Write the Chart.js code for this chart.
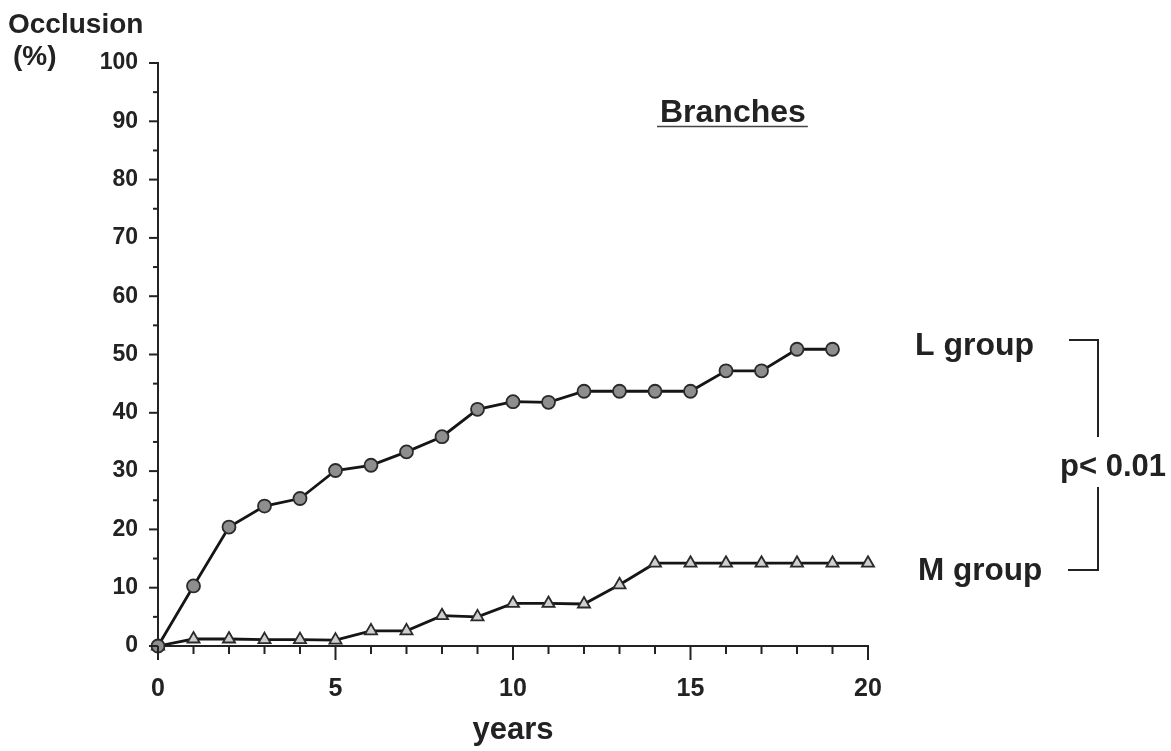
<!DOCTYPE html>
<html>
<head>
<meta charset="utf-8">
<script src="https://cdn.jsdelivr.net/npm/chart.js@4/dist/chart.umd.min.js"></script>
<style>
  html, body { margin: 0; padding: 0; background: #ffffff; }
  #wrap { width: 1171px; height: 751px; position: relative; }
</style>
</head>
<body>
<div id="wrap"><canvas id="c" width="1171" height="751"></canvas></div>
<script>
// ---- data ----
const yearsL = [0,1,2,3,4,5,6,7,8,9,10,11,12,13,14,15,16,17,18,19];
const lGroup = [0,10.3,20.4,24.0,25.3,30.1,31.0,33.3,35.9,40.6,41.9,41.8,43.7,43.7,43.7,43.7,47.2,47.2,50.9,50.9];
const yearsM = [0,1,2,3,4,5,6,7,8,9,10,11,12,13,14,15,16,17,18,19,20];
const mGroup = [0,1.2,1.2,1.1,1.1,1.0,2.6,2.6,5.2,5.0,7.3,7.3,7.2,10.5,14.2,14.2,14.2,14.2,14.2,14.2,14.2];
const xTickLabels = [0,5,10,15,20];
const yTickLabels = [0,10,20,30,40,50,60,70,80,90,100];
const seriesNames = ['L group','M group'];
const panelTitle = 'Branches';
const pText = 'p< 0.01';

const FONT = "'Liberation Sans', Arial, Helvetica, sans-serif";
const INK = '#222222';

const toXY = (xs, ys) => ys.map((v, i) => ({ x: xs[i], y: v }));

const decor = {
  id: 'decor',
  afterDraw(chart) {
    const { ctx, scales: { x, y }, chartArea: ca } = chart;
    ctx.save();
    ctx.strokeStyle = INK;
    ctx.lineWidth = 2;
    // x ticks (minor every year, major every 5)
    for (let v = 0; v <= 20; v++) {
      const px = x.getPixelForValue(v);
      const len = v % 5 === 0 ? 14 : 8;
      ctx.beginPath(); ctx.moveTo(px, ca.bottom); ctx.lineTo(px, ca.bottom + len); ctx.stroke();
    }
    // y ticks (minor every 5, major every 10)
    for (let v = 0; v <= 100; v += 5) {
      const py = y.getPixelForValue(v);
      const len = v % 10 === 0 ? 9 : 5;
      ctx.beginPath(); ctx.moveTo(ca.left, py); ctx.lineTo(ca.left - len, py); ctx.stroke();
    }
    // texts
    ctx.fillStyle = INK;
    ctx.textBaseline = 'alphabetic';
    ctx.textAlign = 'left';
    ctx.font = `bold 28px ${FONT}`;
    ctx.fillText('Occlusion', 8, 33);
    ctx.fillText('(%)', 13, 65);

    ctx.font = `bold 32px ${FONT}`;
    ctx.fillText(panelTitle, 660, 122);
    const w = ctx.measureText(panelTitle).width;
    ctx.lineWidth = 1.5;
    ctx.strokeStyle = '#444';
    ctx.beginPath(); ctx.moveTo(657, 126.5); ctx.lineTo(660 + w + 2, 126.5); ctx.stroke();

    ctx.font = `bold 32px ${FONT}`;
    ctx.fillText(seriesNames[0], 915, 355);
    ctx.font = `bold 31.5px ${FONT}`;
    ctx.fillText(seriesNames[1], 918, 580);
    ctx.font = `bold 31px ${FONT}`;
    ctx.fillText(pText, 1060, 476);

    // bracket
    ctx.strokeStyle = INK;
    ctx.lineWidth = 2;
    ctx.beginPath();
    ctx.moveTo(1069, 340); ctx.lineTo(1098, 340); ctx.lineTo(1098, 437);
    ctx.moveTo(1098, 487); ctx.lineTo(1098, 570); ctx.lineTo(1068, 570);
    ctx.stroke();
    ctx.restore();
  }
};

new Chart(document.getElementById('c'), {
  type: 'line',
  data: {
    datasets: [
      {
        label: seriesNames[0],
        data: toXY(yearsL, lGroup),
        borderColor: '#151515', borderWidth: 2.8, tension: 0,
        pointStyle: 'circle', pointRadius: 6.5,
        pointBackgroundColor: '#8e8e8e', pointBorderColor: '#2a2a2a', pointBorderWidth: 1.8,
        clip: false
      },
      {
        label: seriesNames[1],
        data: toXY(yearsM, mGroup),
        borderColor: '#151515', borderWidth: 2.8, tension: 0,
        pointStyle: 'triangle', pointRadius: 7,
        pointBackgroundColor: '#cfcfcf', pointBorderColor: '#2a2a2a', pointBorderWidth: 1.8,
        clip: false
      }
    ]
  },
  options: {
    responsive: false,
    animation: false,
    events: [],
    layout: { padding: { left: 0, top: 63, right: 303, bottom: 0 } },
    plugins: { legend: { display: false }, tooltip: { enabled: false } },
    scales: {
      x: {
        type: 'linear', min: 0, max: 20,
        afterFit(s) { s.height = 105; },
        afterBuildTicks(s) { s.ticks = xTickLabels.map(v => ({ value: v })); },
        grid: { display: false, drawTicks: false },
        border: { display: true, color: INK, width: 2 },
        ticks: { padding: 28, color: INK, font: { family: FONT, size: 25, weight: 'bold' }, maxRotation: 0 },
        title: { display: true, text: 'years', color: INK, font: { family: FONT, size: 31, weight: 'bold' }, padding: { top: 0, bottom: 2 } }
      },
      y: {
        type: 'linear', min: 0, max: 100,
        afterFit(s) { s.width = 158; },
        afterBuildTicks(s) { s.ticks = yTickLabels.map(v => ({ value: v })); },
        grid: { display: false, drawTicks: false },
        border: { display: true, color: INK, width: 2 },
        ticks: { padding: 20, color: INK, font: { family: FONT, size: 23, weight: 'bold' } }
      }
    }
  },
  plugins: [decor]
});
</script>
</body>
</html>
